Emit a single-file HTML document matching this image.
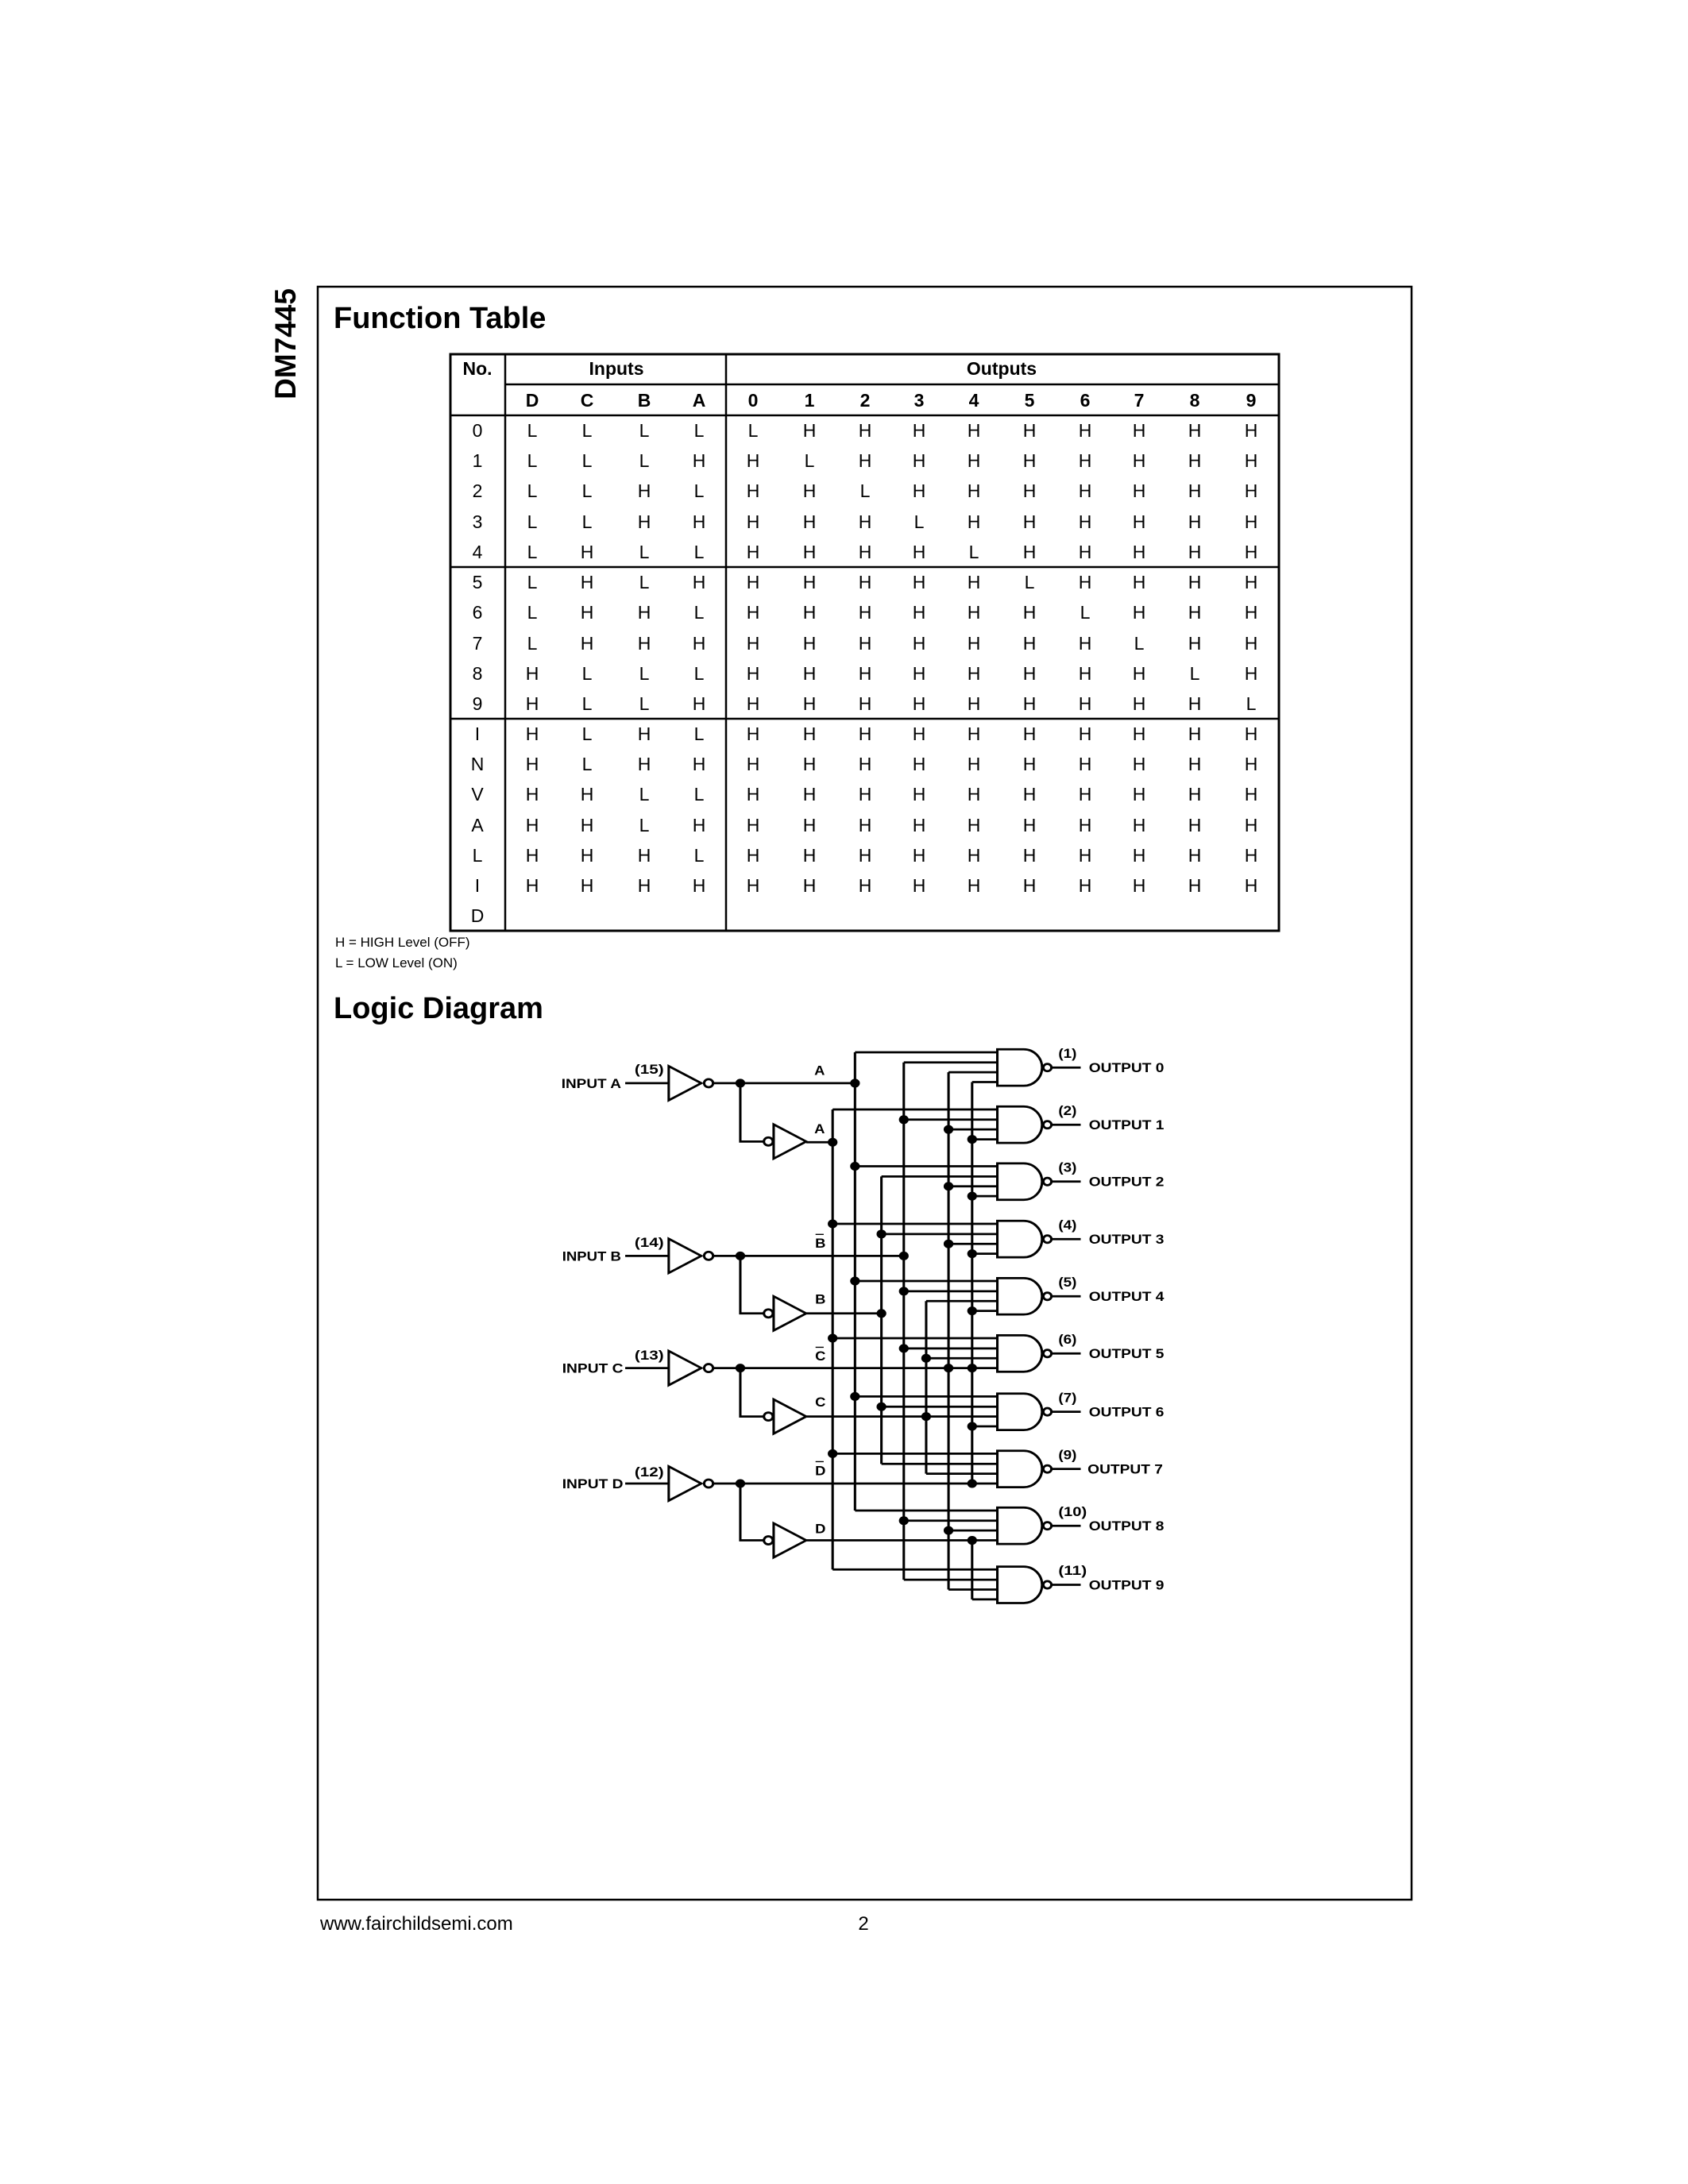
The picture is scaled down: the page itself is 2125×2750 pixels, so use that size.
<!DOCTYPE html>
<html><head><meta charset="utf-8"><style>
html,body{margin:0;padding:0;background:#fff}
body{width:2125px;height:2750px;position:relative;overflow:hidden;font-family:"Liberation Sans",Arial,sans-serif}
</style></head><body>
<svg width="2125" height="2750" style="position:absolute;left:0;top:0" font-family="Liberation Sans, Arial, sans-serif">
<rect x="400" y="361" width="1377" height="2031" fill="none" stroke="#000" stroke-width="2.5"/>
<text transform="translate(372,433) rotate(-90)" text-anchor="middle" font-size="37" font-weight="bold">DM7445</text>
<text x="420" y="413" font-size="38" font-weight="bold">Function Table</text>
<text x="420" y="1282" font-size="38" font-weight="bold">Logic Diagram</text>
<text x="422" y="1192" font-size="17">H = HIGH Level (OFF)</text>
<text x="422" y="1218" font-size="17">L = LOW Level (ON)</text>
<text x="403" y="2430" font-size="24">www.fairchildsemi.com</text>
<text x="1087" y="2430" font-size="24" text-anchor="middle">2</text>
<!-- table -->
<g stroke="#000" fill="none">
<rect x="567" y="446" width="1043" height="726" stroke-width="3"/>
<line x1="636" y1="446" x2="636" y2="1172" stroke-width="2.5"/>
<line x1="914" y1="446" x2="914" y2="1172" stroke-width="2.5"/>
<line x1="636" y1="484" x2="1610" y2="484" stroke-width="2.5"/>
<line x1="567" y1="523" x2="1610" y2="523" stroke-width="2.5"/>
<line x1="567" y1="714" x2="1610" y2="714" stroke-width="2.5"/>
<line x1="567" y1="905" x2="1610" y2="905" stroke-width="2.5"/>
</g>
<g font-size="23" text-anchor="middle">
<text x="601" y="472" font-weight="bold">No.</text>
<text x="776" y="472" font-weight="bold">Inputs</text>
<text x="1261" y="472" font-weight="bold">Outputs</text>
<text x="670 739 811 880 948 1019 1089 1157 1226 1296 1366 1434 1504 1575" y="512" font-weight="bold">DCBA0123456789</text>
<text x="601 670 739 811 880 948 1019 1089 1157 1226 1296 1366 1434 1504 1575" y="550">0LLLLLHHHHHHHHH</text>
<text x="601 670 739 811 880 948 1019 1089 1157 1226 1296 1366 1434 1504 1575" y="588">1LLLHHLHHHHHHHH</text>
<text x="601 670 739 811 880 948 1019 1089 1157 1226 1296 1366 1434 1504 1575" y="626">2LLHLHHLHHHHHHH</text>
<text x="601 670 739 811 880 948 1019 1089 1157 1226 1296 1366 1434 1504 1575" y="665">3LLHHHHHLHHHHHH</text>
<text x="601 670 739 811 880 948 1019 1089 1157 1226 1296 1366 1434 1504 1575" y="703">4LHLLHHHHLHHHHH</text>
<text x="601 670 739 811 880 948 1019 1089 1157 1226 1296 1366 1434 1504 1575" y="741">5LHLHHHHHHLHHHH</text>
<text x="601 670 739 811 880 948 1019 1089 1157 1226 1296 1366 1434 1504 1575" y="779">6LHHLHHHHHHLHHH</text>
<text x="601 670 739 811 880 948 1019 1089 1157 1226 1296 1366 1434 1504 1575" y="818">7LHHHHHHHHHHLHH</text>
<text x="601 670 739 811 880 948 1019 1089 1157 1226 1296 1366 1434 1504 1575" y="856">8HLLLHHHHHHHHLH</text>
<text x="601 670 739 811 880 948 1019 1089 1157 1226 1296 1366 1434 1504 1575" y="894">9HLLHHHHHHHHHHL</text>
<text x="601 670 739 811 880 948 1019 1089 1157 1226 1296 1366 1434 1504 1575" y="932">IHLHLHHHHHHHHHH</text>
<text x="601 670 739 811 880 948 1019 1089 1157 1226 1296 1366 1434 1504 1575" y="970">NHLHHHHHHHHHHHH</text>
<text x="601 670 739 811 880 948 1019 1089 1157 1226 1296 1366 1434 1504 1575" y="1008">VHHLLHHHHHHHHHH</text>
<text x="601 670 739 811 880 948 1019 1089 1157 1226 1296 1366 1434 1504 1575" y="1047">AHHLHHHHHHHHHHH</text>
<text x="601 670 739 811 880 948 1019 1089 1157 1226 1296 1366 1434 1504 1575" y="1085">LHHHLHHHHHHHHHH</text>
<text x="601 670 739 811 880 948 1019 1089 1157 1226 1296 1366 1434 1504 1575" y="1123">IHHHHHHHHHHHHHH</text>
<text x="601" y="1161">D</text>
</g>
</svg>

<svg style="position:absolute;left:677px;top:1280px" width="791" height="760" viewBox="0 0 1545 1657" preserveAspectRatio="none" font-family="Liberation Sans, Arial, sans-serif">
<g stroke="#000" stroke-width="6" fill="none">
<path d="M215,183H322M322,136V230L402,183ZM431,183H780M498,183V343H556M580,296V390L660,343ZM660,345H725"/>
<circle cx="420" cy="183" r="11"/><circle cx="567" cy="343" r="11"/>
<path d="M215,657H322M322,610V704L402,657ZM431,657H900M498,657V815H556M580,768V862L660,815ZM660,815H845"/>
<circle cx="420" cy="657" r="11"/><circle cx="567" cy="815" r="11"/>
<path d="M215,965H322M322,918V1012L402,965ZM431,965H1130M498,965V1098H556M580,1051V1145L660,1098ZM660,1098H1130"/>
<circle cx="420" cy="965" r="11"/><circle cx="567" cy="1098" r="11"/>
<path d="M215,1282H322M322,1235V1329L402,1282ZM431,1282H1130M498,1282V1438H556M580,1391V1485L660,1438ZM660,1438H1130"/>
<circle cx="420" cy="1282" r="11"/><circle cx="567" cy="1438" r="11"/>
<path d="M780,98V1356M725,255V1518M900,126V1546M845,439V1228M1010,153V1573M955,781V1255M1068,180V1282M1068,1438V1600"/>
<path d="M780,98H1130M900,126H1130M1010,153H1130M1068,180H1130
M725,255H1130M900,283H1130M1010,310H1130M1068,337H1130
M780,411H1130M845,439H1130M1010,466H1130M1068,493H1130
M725,569H1130M845,597H1130M1010,624H1130M1068,651H1130
M780,726H1130M900,754H1130M955,781H1130M1068,808H1130
M725,883H1130M900,911H1130M955,938H1130
M780,1043H1130M845,1071H1130M1068,1125H1130
M725,1200H1130M845,1228H1130M955,1255H1130
M780,1356H1130M900,1384H1130M1010,1411H1130
M725,1518H1130M900,1546H1130M1010,1573H1130M1068,1600H1130"/>
<path d="M1130,90H1195A45,50 0 0 1 1195,190H1130Z"/><circle cx="1253" cy="140" r="10"/><path d="M1263,140H1335"/>
<path d="M1130,247H1195A45,50 0 0 1 1195,347H1130Z"/><circle cx="1253" cy="297" r="10"/><path d="M1263,297H1335"/>
<path d="M1130,403H1195A45,50 0 0 1 1195,503H1130Z"/><circle cx="1253" cy="453" r="10"/><path d="M1263,453H1335"/>
<path d="M1130,561H1195A45,50 0 0 1 1195,661H1130Z"/><circle cx="1253" cy="611" r="10"/><path d="M1263,611H1335"/>
<path d="M1130,718H1195A45,50 0 0 1 1195,818H1130Z"/><circle cx="1253" cy="768" r="10"/><path d="M1263,768H1335"/>
<path d="M1130,875H1195A45,50 0 0 1 1195,975H1130Z"/><circle cx="1253" cy="925" r="10"/><path d="M1263,925H1335"/>
<path d="M1130,1035H1195A45,50 0 0 1 1195,1135H1130Z"/><circle cx="1253" cy="1085" r="10"/><path d="M1263,1085H1335"/>
<path d="M1130,1192H1195A45,50 0 0 1 1195,1292H1130Z"/><circle cx="1253" cy="1242" r="10"/><path d="M1263,1242H1335"/>
<path d="M1130,1348H1195A45,50 0 0 1 1195,1448H1130Z"/><circle cx="1253" cy="1398" r="10"/><path d="M1263,1398H1335"/>
<path d="M1130,1510H1195A45,50 0 0 1 1195,1610H1130Z"/><circle cx="1253" cy="1560" r="10"/><path d="M1263,1560H1335"/>
<path stroke-width="3" d="M683,598H703M683,908H703M683,1222H703"/>
</g>
<g fill="#000">
<circle cx="498" cy="183" r="12"/><circle cx="498" cy="657" r="12"/><circle cx="498" cy="965" r="12"/><circle cx="498" cy="1282" r="12"/>
<circle cx="780" cy="183" r="12"/><circle cx="725" cy="345" r="12"/><circle cx="900" cy="657" r="12"/><circle cx="845" cy="815" r="12"/>
<circle cx="1010" cy="965" r="12"/><circle cx="955" cy="1098" r="12"/><circle cx="1068" cy="1282" r="12"/><circle cx="1068" cy="1438" r="12"/>
<circle cx="900" cy="283" r="12"/><circle cx="1010" cy="310" r="12"/><circle cx="1068" cy="337" r="12"/>
<circle cx="780" cy="411" r="12"/><circle cx="1010" cy="466" r="12"/><circle cx="1068" cy="493" r="12"/>
<circle cx="725" cy="569" r="12"/><circle cx="845" cy="597" r="12"/><circle cx="1010" cy="624" r="12"/><circle cx="1068" cy="651" r="12"/>
<circle cx="780" cy="726" r="12"/><circle cx="900" cy="754" r="12"/><circle cx="1068" cy="808" r="12"/>
<circle cx="725" cy="883" r="12"/><circle cx="900" cy="911" r="12"/><circle cx="955" cy="938" r="12"/><circle cx="1068" cy="965" r="12"/>
<circle cx="780" cy="1043" r="12"/><circle cx="845" cy="1071" r="12"/><circle cx="1068" cy="1125" r="12"/>
<circle cx="725" cy="1200" r="12"/>
<circle cx="900" cy="1384" r="12"/><circle cx="1010" cy="1411" r="12"/>
</g>
<g font-size="36" font-weight="bold" fill="#000">
<text x="58" y="196" textLength="147" lengthAdjust="spacingAndGlyphs">INPUT A</text>
<text x="60" y="670" textLength="145" lengthAdjust="spacingAndGlyphs">INPUT B</text>
<text x="60" y="978" textLength="150" lengthAdjust="spacingAndGlyphs">INPUT C</text>
<text x="60" y="1295" textLength="150" lengthAdjust="spacingAndGlyphs">INPUT D</text>
<text x="238" y="157" textLength="72" lengthAdjust="spacingAndGlyphs">(15)</text>
<text x="238" y="632" textLength="72" lengthAdjust="spacingAndGlyphs">(14)</text>
<text x="238" y="942" textLength="72" lengthAdjust="spacingAndGlyphs">(13)</text>
<text x="238" y="1262" textLength="72" lengthAdjust="spacingAndGlyphs">(12)</text>
<text x="680" y="160">A</text>
<text x="680" y="320">A</text>
<text x="682" y="635">B</text>
<text x="682" y="788">B</text>
<text x="682" y="944">C</text>
<text x="682" y="1071">C</text>
<text x="682" y="1259">D</text>
<text x="682" y="1418">D</text>
<text x="1280" y="113" textLength="45" lengthAdjust="spacingAndGlyphs">(1)</text>
<text x="1280" y="270" textLength="45" lengthAdjust="spacingAndGlyphs">(2)</text>
<text x="1280" y="426" textLength="45" lengthAdjust="spacingAndGlyphs">(3)</text>
<text x="1280" y="584" textLength="45" lengthAdjust="spacingAndGlyphs">(4)</text>
<text x="1280" y="741" textLength="45" lengthAdjust="spacingAndGlyphs">(5)</text>
<text x="1280" y="898" textLength="45" lengthAdjust="spacingAndGlyphs">(6)</text>
<text x="1280" y="1058" textLength="45" lengthAdjust="spacingAndGlyphs">(7)</text>
<text x="1280" y="1215" textLength="45" lengthAdjust="spacingAndGlyphs">(9)</text>
<text x="1280" y="1371" textLength="70" lengthAdjust="spacingAndGlyphs">(10)</text>
<text x="1280" y="1533" textLength="70" lengthAdjust="spacingAndGlyphs">(11)</text>
<text x="1355" y="153" textLength="185" lengthAdjust="spacingAndGlyphs">OUTPUT 0</text>
<text x="1355" y="310" textLength="185" lengthAdjust="spacingAndGlyphs">OUTPUT 1</text>
<text x="1355" y="466" textLength="185" lengthAdjust="spacingAndGlyphs">OUTPUT 2</text>
<text x="1355" y="624" textLength="185" lengthAdjust="spacingAndGlyphs">OUTPUT 3</text>
<text x="1355" y="781" textLength="185" lengthAdjust="spacingAndGlyphs">OUTPUT 4</text>
<text x="1355" y="938" textLength="185" lengthAdjust="spacingAndGlyphs">OUTPUT 5</text>
<text x="1355" y="1098" textLength="185" lengthAdjust="spacingAndGlyphs">OUTPUT 6</text>
<text x="1352" y="1255" textLength="185" lengthAdjust="spacingAndGlyphs">OUTPUT 7</text>
<text x="1355" y="1411" textLength="185" lengthAdjust="spacingAndGlyphs">OUTPUT 8</text>
<text x="1355" y="1573" textLength="185" lengthAdjust="spacingAndGlyphs">OUTPUT 9</text>
</g>
</svg>
</body></html>
